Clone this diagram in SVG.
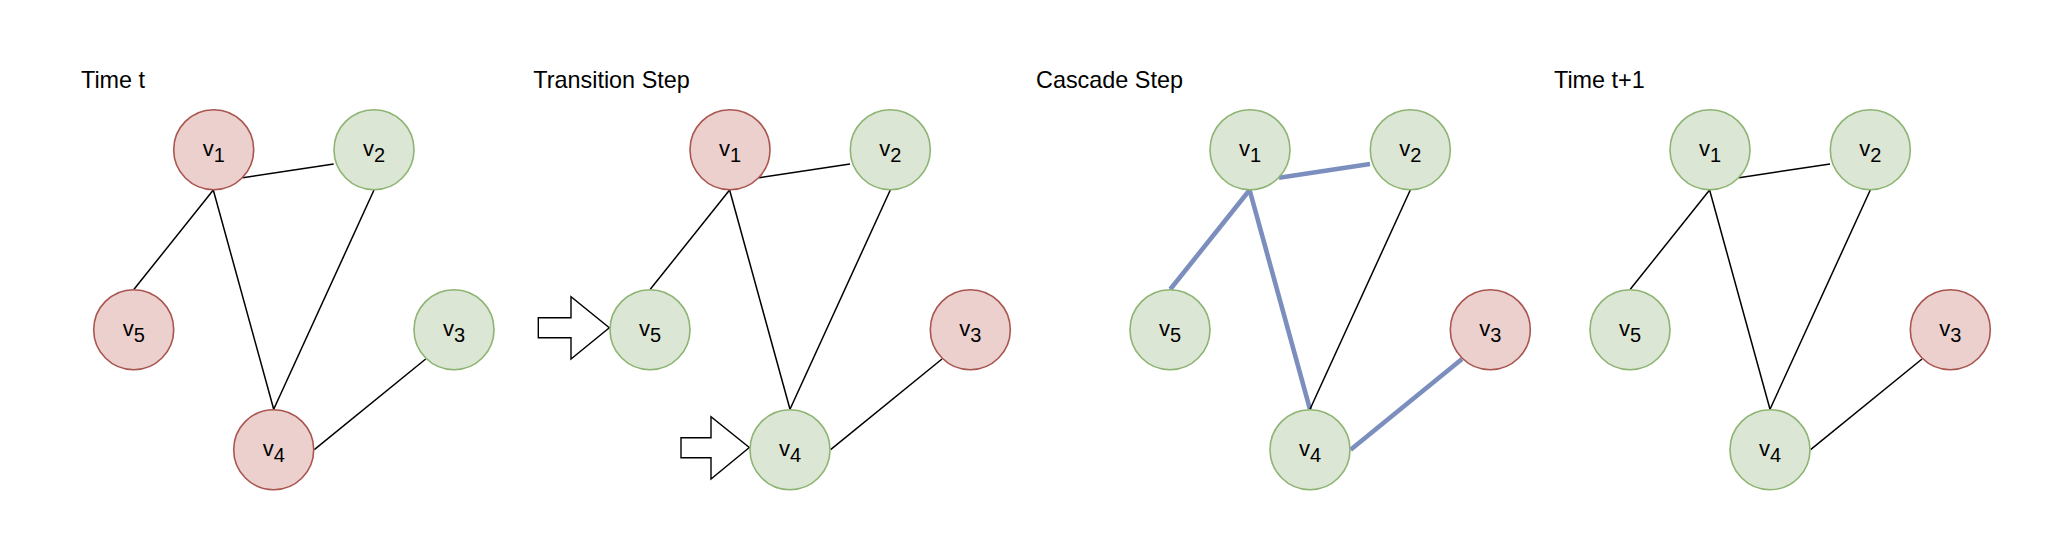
<svg xmlns="http://www.w3.org/2000/svg" width="2066" height="554" viewBox="0 0 2066 554">
<style>
.title{font-family:"Liberation Sans",Arial,sans-serif;font-size:23.4px;fill:#000}
.lbl{font-family:"Liberation Sans",Arial,sans-serif;font-size:22px;fill:#000;text-anchor:middle}
.sub{font-size:20px}
.red{fill:#ecd0ce;stroke:#a9554f;stroke-width:1.6}
.green{fill:#dbe6d4;stroke:#8db472;stroke-width:1.6}
.e{stroke:#000;stroke-width:1.5;fill:none}
.b{stroke:#7b8ebe;stroke-width:4.6;fill:none}
.arrow{fill:#fff;stroke:#000;stroke-width:1.4;stroke-linejoin:miter}
</style>
<rect width="2066" height="554" fill="#fff"/>
<g id="titles">
<text class="title" x="81" y="87.7">Time t</text>
<text class="title" x="533.3" y="87.7">Transition Step</text>
<text class="title" x="1036" y="87.7">Cascade Step</text>
<text class="title" x="1554" y="87.7">Time t+1</text>
</g>
<g id="connectors">
<g id="edges-p1">
<line class="e" x1="242.7" y1="177.7" x2="333.7" y2="164"/>
<line class="e" x1="213.3" y1="190" x2="134" y2="289.3"/>
<line class="e" x1="213.3" y1="190" x2="273.7" y2="409.3"/>
<line class="e" x1="374" y1="190" x2="273.7" y2="409.3"/>
<line class="e" x1="425.7" y1="359" x2="314.3" y2="449.7"/>
</g>
<g id="edges-p2" transform="translate(516.3,0)">
<line class="e" x1="242.7" y1="177.7" x2="333.7" y2="164"/>
<line class="e" x1="213.3" y1="190" x2="134" y2="289.3"/>
<line class="e" x1="213.3" y1="190" x2="273.7" y2="409.3"/>
<line class="e" x1="374" y1="190" x2="273.7" y2="409.3"/>
<line class="e" x1="425.7" y1="359" x2="314.3" y2="449.7"/>
</g>
<g id="edges-p3" transform="translate(1036.3,0)">
<line class="b" x1="242.7" y1="177.7" x2="333.7" y2="164"/>
<line class="b" x1="213.3" y1="190" x2="134" y2="289.3"/>
<line class="b" x1="213.3" y1="190" x2="273.7" y2="409.3"/>
<line class="e" x1="374" y1="190" x2="273.7" y2="409.3"/>
<line class="b" x1="425.7" y1="359" x2="314.3" y2="449.7"/>
</g>
<g id="edges-p4" transform="translate(1496.3,0)">
<line class="e" x1="242.7" y1="177.7" x2="333.7" y2="164"/>
<line class="e" x1="213.3" y1="190" x2="134" y2="289.3"/>
<line class="e" x1="213.3" y1="190" x2="273.7" y2="409.3"/>
<line class="e" x1="374" y1="190" x2="273.7" y2="409.3"/>
<line class="e" x1="425.7" y1="359" x2="314.3" y2="449.7"/>
</g>
</g>
<g id="arrow-v5"><polygon class="arrow" points="538.3,317.7 571,317.7 571,296.7 609.3,327.7 571,359 571,337.7 538.3,337.7"/></g>
<g id="arrow-v4"><polygon class="arrow" points="681,437.7 711,437.7 711,416.7 749.3,447.5 711,479 711,457.7 681,457.7"/></g>
<g id="panel1">
<g id="p1-v1"><circle class="red" cx="213.7" cy="149.7" r="40"/><text class="lbl" x="213.7" y="156">v<tspan class="sub" dy="5.7">1</tspan></text></g>
<g id="p1-v2"><circle class="green" cx="374" cy="149.7" r="40"/><text class="lbl" x="374" y="156">v<tspan class="sub" dy="5.7">2</tspan></text></g>
<g id="p1-v3"><circle class="green" cx="454" cy="329.7" r="40"/><text class="lbl" x="454" y="336">v<tspan class="sub" dy="5.7">3</tspan></text></g>
<g id="p1-v4"><circle class="red" cx="273.7" cy="449.7" r="40"/><text class="lbl" x="273.7" y="456">v<tspan class="sub" dy="5.7">4</tspan></text></g>
<g id="p1-v5"><circle class="red" cx="133.7" cy="329.7" r="40"/><text class="lbl" x="133.7" y="336">v<tspan class="sub" dy="5.7">5</tspan></text></g>
</g>
<g id="panel2" transform="translate(516.3,0)">
<g id="p2-v1"><circle class="red" cx="213.7" cy="149.7" r="40"/><text class="lbl" x="213.7" y="156">v<tspan class="sub" dy="5.7">1</tspan></text></g>
<g id="p2-v2"><circle class="green" cx="374" cy="149.7" r="40"/><text class="lbl" x="374" y="156">v<tspan class="sub" dy="5.7">2</tspan></text></g>
<g id="p2-v3"><circle class="red" cx="454" cy="329.7" r="40"/><text class="lbl" x="454" y="336">v<tspan class="sub" dy="5.7">3</tspan></text></g>
<g id="p2-v4"><circle class="green" cx="273.7" cy="449.7" r="40"/><text class="lbl" x="273.7" y="456">v<tspan class="sub" dy="5.7">4</tspan></text></g>
<g id="p2-v5"><circle class="green" cx="133.7" cy="329.7" r="40"/><text class="lbl" x="133.7" y="336">v<tspan class="sub" dy="5.7">5</tspan></text></g>
</g>
<g id="panel3" transform="translate(1036.3,0)">
<g id="p3-v1"><circle class="green" cx="213.7" cy="149.7" r="40"/><text class="lbl" x="213.7" y="156">v<tspan class="sub" dy="5.7">1</tspan></text></g>
<g id="p3-v2"><circle class="green" cx="374" cy="149.7" r="40"/><text class="lbl" x="374" y="156">v<tspan class="sub" dy="5.7">2</tspan></text></g>
<g id="p3-v3"><circle class="red" cx="454" cy="329.7" r="40"/><text class="lbl" x="454" y="336">v<tspan class="sub" dy="5.7">3</tspan></text></g>
<g id="p3-v4"><circle class="green" cx="273.7" cy="449.7" r="40"/><text class="lbl" x="273.7" y="456">v<tspan class="sub" dy="5.7">4</tspan></text></g>
<g id="p3-v5"><circle class="green" cx="133.7" cy="329.7" r="40"/><text class="lbl" x="133.7" y="336">v<tspan class="sub" dy="5.7">5</tspan></text></g>
</g>
<g id="panel4" transform="translate(1496.3,0)">
<g id="p4-v1"><circle class="green" cx="213.7" cy="149.7" r="40"/><text class="lbl" x="213.7" y="156">v<tspan class="sub" dy="5.7">1</tspan></text></g>
<g id="p4-v2"><circle class="green" cx="374" cy="149.7" r="40"/><text class="lbl" x="374" y="156">v<tspan class="sub" dy="5.7">2</tspan></text></g>
<g id="p4-v3"><circle class="red" cx="454" cy="329.7" r="40"/><text class="lbl" x="454" y="336">v<tspan class="sub" dy="5.7">3</tspan></text></g>
<g id="p4-v4"><circle class="green" cx="273.7" cy="449.7" r="40"/><text class="lbl" x="273.7" y="456">v<tspan class="sub" dy="5.7">4</tspan></text></g>
<g id="p4-v5"><circle class="green" cx="133.7" cy="329.7" r="40"/><text class="lbl" x="133.7" y="336">v<tspan class="sub" dy="5.7">5</tspan></text></g>
</g>
</svg>
